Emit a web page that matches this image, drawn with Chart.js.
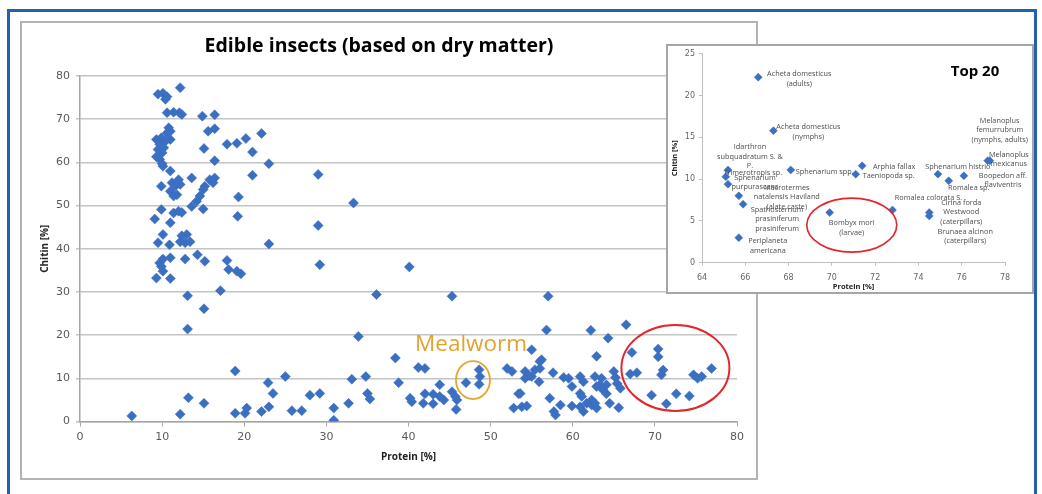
<!DOCTYPE html>
<html>
<head>
<meta charset="utf-8">
<script src="https://cdn.jsdelivr.net/npm/chart.js@4.4.1/dist/chart.umd.min.js"></script>
<style>
    html, body { margin: 0; padding: 0; background: #fff; }
    body { width: 1042px; height: 494px; position: relative; overflow: hidden; }
    #frame { position: absolute; left: 7px; top: 9px; width: 1030px; height: 600px; border: 3px solid #2261b2; border-bottom: none; box-sizing: border-box; }
    #mainBorder { position: absolute; left: 20px; top: 21px; width: 738px; height: 459px; border: 2px solid #b3b3b3; box-sizing: border-box; }
    #mainChart { position: absolute; left: 21px; top: 22px; }
    #insetBox { position: absolute; left: 666px; top: 44px; width: 368px; height: 250px; border: 2px solid #a6a6a6; box-sizing: border-box; background: #fff; }
    #insetChart { position: absolute; left: 667px; top: 45px; }
</style>
</head>
<body>
<div id="frame"></div>
<canvas id="mainChart" width="736" height="457"></canvas>
<div id="mainBorder"></div>
<div id="insetBox"></div>
<canvas id="insetChart" width="366" height="248"></canvas>
<script>
// all edible insects: protein [%] and chitin [%]
const protein = [
    12.2, 9.5, 10.1, 10.6, 10.4, 10.6, 11.4, 12.1, 12.4, 14.9, 16.4,
    10.8, 11, 10.6, 15.6, 16.4, 9.3, 9.9, 9.7, 10.4, 11,
    9.5, 10.2, 10, 9.3, 9.7, 10.1, 10, 11,
    15.1, 17.9, 19.1, 20.2, 22.1, 21, 16.4, 23, 21, 29,
    13.6, 9.9, 11.2, 11.6, 12, 12.2, 11, 11.8, 11.4,
    15.2, 15.8, 16.2, 16.4, 14.6, 14.2, 13.6, 15, 15,
    19.3, 19.2, 9.9, 11.4, 12, 12.4, 9.1, 11, 33.3, 29,
    10.1, 12.4, 13, 12.8, 12.2, 13.4, 9.5, 10.9, 23,
    10.1, 11, 9.7, 9.9, 10.1, 12.8, 14.3, 15.2, 9.3, 11,
    17.9, 18.1, 19.1, 19.6, 13.1, 17.1, 15.1, 13.1,
    29.2, 40.1, 36.1, 45.3, 33.9, 56.8, 57, 62.2, 66.5, 64.3, 55, 62.9, 67.2, 70.4, 70.4, 38.4, 56,
    18.9, 25, 33.1, 34.8, 38.8, 22.9, 23.5, 13.2, 15.1, 6.3, 12.2, 18.9, 20.3, 20.1, 22.1, 23,
    25.8, 27, 28, 29.2, 30.9, 30.9, 32.7, 35, 35.3,
    41.2, 42, 40.2, 40.4, 42, 43, 43.8, 41.8, 43, 43.8, 44.3, 45.3, 45.7, 45.9, 45.8,
    47, 48.6, 48.7, 48.6,
    52, 52.6, 53.4, 52.8, 54.2, 54.7, 55.4, 56, 57.6, 54.2, 55.9, 58.9, 59.5, 60.9, 61.3,
    53.6, 57.2, 53.8, 54.4, 58.5, 57.9, 57.7, 56.2, 55,
    59.9, 60.9, 61.1, 59.9, 60.9, 61.3, 61.7, 62.3, 62.9, 62.7, 63.5, 63.3, 62.9, 63.7,
    64.1, 64.1, 62.7, 64.5, 65.6, 62.3, 65, 65.2, 65.4, 65.8,
    67, 67.8, 71, 70.8, 74.7, 75.2, 75.7, 76.9, 69.6, 71.4, 72.6, 74.2
];
const chitin = [
    77.3, 75.8, 76, 75.2, 74.6, 71.5, 71.6, 71.5, 71.1, 70.7, 71,
    68, 67.2, 66.8, 67.2, 67.8, 65.3, 65.7, 64.2, 64.9, 65.3,
    63, 63.4, 62.2, 61.3, 60.7, 59.1, 59.7, 58,
    63.2, 64.2, 64.4, 65.5, 66.7, 62.4, 60.4, 59.7, 57, 57.2,
    56.4, 54.5, 55.3, 54.5, 56, 54.9, 53.3, 52.5, 52.2,
    54.5, 56, 55.3, 56.4, 52.2, 51, 49.8, 53.7, 49.2,
    52, 47.5, 49.1, 48.3, 48.7, 48.4, 46.9, 46, 50.6, 45.4,
    43.3, 43, 43.3, 41.4, 41.6, 41.6, 41.4, 40.9, 41.1,
    37.6, 37.9, 36.7, 35.9, 34.8, 37.6, 38.6, 37.1, 33.2, 33.1,
    37.3, 35.2, 34.8, 34.2, 29.1, 30.3, 26.1, 21.4,
    36.3, 35.8, 29.4, 29, 19.7, 21.2, 29, 21.1, 22.4, 19.3, 16.6, 15.1, 16, 16.8, 15, 14.7, 13.9,
    11.7, 10.4, 9.8, 10.4, 9, 9, 6.5, 5.5, 4.2, 1.3, 1.7, 1.9, 3.1, 1.9, 2.3, 3.4,
    2.5, 2.5, 6.1, 6.5, 3.1, 0.3, 4.2, 6.5, 5.2,
    12.5, 12.3, 5.4, 4.6, 6.4, 6.3, 5.8, 4.2, 4.1, 8.5, 5, 6.9, 5.8, 5, 2.8,
    9, 12, 10.4, 8.6,
    12.3, 11.6, 6.4, 3.1, 11.6, 10.6, 12, 12.3, 11.3, 10, 9.2, 10.2, 10, 10.4, 9.2,
    6.5, 5.4, 3.4, 3.6, 3.8, 1.5, 2.3, 14.3, 10.4,
    8.1, 6.5, 5.8, 3.6, 3.4, 2.3, 4.2, 3.8, 3.1, 10.4, 10, 8.5, 8.1, 7.3,
    6.4, 8.5, 4.2, 4.2, 3.2, 5, 11.6, 10.2, 8.8, 7.7,
    11, 11.3, 11.9, 10.8, 10.8, 10, 10.4, 12.3, 6.1, 4.1, 6.4, 5.9
];

// top 20 by protein
const top20Names = [
    'Acheta domesticus\n(adults)', 'Acheta domesticus\n(nymphs)', 'Idarthron\nsubquadratum S. &\nP.',
    'Trimerotropis sp.', 'Sphenarium\npurpurascens', 'Sphenarium spp.',
    'Macrotermes\nnatalensis Haviland\n(alate caste)', 'Spathosternum\nprasiniferum\nprasiniferum',
    'Periplaneta\namericana', 'Bombyx mori\n(larvae)', 'Arphia fallax', 'Taeniopoda sp.',
    'Romalea colorata S.', 'Cirina forda\nWestwood\n(caterpillars)', 'Brunaea alcinon\n(caterpillars)',
    'Sphenarium histrio', 'Romalea sp.', 'Boopedon aff.\nflaviventris',
    'Melanoplus\nfemurrubrum\n(nymphs, adults)', 'Melanoplus\nmexicanus'
];
const top20Protein = [66.6, 67.3, 65.2, 65.1, 65.2, 68.1, 65.7, 65.9, 65.7, 69.9, 71.4, 71.1, 72.8, 74.5, 74.5, 74.9, 75.4, 76.1, 77.2, 77.3];
const top20Chitin = [22.2, 15.8, 11.1, 10.3, 9.4, 11.1, 8.0, 7.0, 3.0, 6.0, 11.6, 10.6, 6.3, 6.0, 5.6, 10.6, 9.8, 10.4, 12.2, 12.2];
// where each label sits relative to its point (px)
const labelOffsets = [
    [41, -3], [35, -3.6], [22, -23], [27, -4], [27, -6.6], [34, 1.7], [48, -8.3], [34, 5.3],
    [29, 3.3], [22, 10.4], [32, 1.3], [33, 1.7], [36, -12], [32, -10], [36, 16], [20, -7.3],
    [20, 6.7], [39, 0], [12, -40], [19, -6]
];

Chart.defaults.font.family = '"Open Sans", sans-serif';
Chart.defaults.animation = false;

const blue = '#3b6fc2';

const mainNotes = {
    id: 'mainNotes',
    afterDatasetsDraw(chart) {
        const { ctx, scales: { x, y } } = chart;
        ctx.save();
        ctx.lineWidth = 1.8;
        ctx.strokeStyle = '#e5a630';
        ctx.beginPath();
        ctx.ellipse(x.getPixelForValue(47.85), y.getPixelForValue(9.6), 17, 19, 0, 0, Math.PI * 2);
        ctx.stroke();

        ctx.lineWidth = 2;
        ctx.strokeStyle = '#e3262a';
        ctx.beginPath();
        ctx.ellipse(x.getPixelForValue(72.5), y.getPixelForValue(12.4), 54, 43, 0, 0, Math.PI * 2);
        ctx.stroke();

        ctx.fillStyle = '#e3a22d';
        ctx.font = '22.5px "Open Sans"';
        ctx.textAlign = 'left';
        ctx.textBaseline = 'alphabetic';
        ctx.fillText('Mealworm', x.getPixelForValue(40.8), y.getPixelForValue(16.3));
        ctx.restore();
    }
};

const insetNotes = {
    id: 'insetNotes',
    afterDatasetsDraw(chart) {
        const { ctx, chartArea, scales: { x, y } } = chart;
        ctx.save();
        ctx.fillStyle = '#4d4d4d';
        ctx.font = '7.3px "Open Sans"';
        ctx.textAlign = 'center';
        ctx.textBaseline = 'middle';
        top20Names.forEach((name, i) => {
            const px = x.getPixelForValue(top20Protein[i]) + labelOffsets[i][0];
            const py = y.getPixelForValue(top20Chitin[i]) + labelOffsets[i][1];
            name.split('\n').forEach((line, k) => {
                ctx.fillText(line, px, py + k * 9.5);
            });
        });

        ctx.lineWidth = 1.6;
        ctx.strokeStyle = '#e3262a';
        ctx.beginPath();
        ctx.ellipse(x.getPixelForValue(70.92), y.getPixelForValue(4.5), 45, 27, 0, 0, Math.PI * 2);
        ctx.stroke();

        ctx.fillStyle = '#000';
        ctx.font = 'bold 15px "Open Sans"';
        ctx.fillText('Top 20', chartArea.right - 30, chartArea.top + 18.3);
        ctx.restore();
    }
};

const mainConfig = {
    type: 'scatter',
    data: {
        datasets: [{
            label: 'Edible insects',
            data: protein.map((p, i) => ({ x: p, y: chitin[i] })),
            pointStyle: 'rectRot',
            radius: 5,
            backgroundColor: blue,
            borderColor: blue,
            borderWidth: 0.5
        }]
    },
    options: {
        responsive: false,
        layout: { padding: { top: 0, right: 20, bottom: 0, left: 0 } },
        plugins: {
            legend: { display: false },
            tooltip: { enabled: false },
            title: {
                display: true,
                text: 'Edible insects (based on dry matter)',
                color: '#000',
                font: { size: 19.5, weight: 'bold' },
                padding: { top: 13, bottom: 17.6 }
            }
        },
        scales: {
            x: {
                type: 'linear',
                min: 0, max: 80,
                afterFit: (s) => { s.height = 57.5; },
                grid: { drawOnChartArea: false, tickLength: 5, color: '#a6a6a6' },
                border: { color: '#a6a6a6', width: 1.5 },
                ticks: { stepSize: 10, padding: 3.9, color: '#595959', font: { family: '"DejaVu Sans"', size: 11 } },
                title: { display: true, text: 'Protein [%]', color: '#222', font: { size: 10, weight: 'bold' }, padding: { top: 0, bottom: 16 } }
            },
            y: {
                min: 0, max: 80,
                afterFit: (s) => { s.width = 59; },
                grid: { color: '#c4c4c4', lineWidth: 1.5, tickLength: 4 },
                border: { color: '#a6a6a6', width: 1.5 },
                ticks: { stepSize: 10, padding: 6, color: '#595959', font: { family: '"DejaVu Sans"', size: 11 } },
                title: { display: true, text: 'Chitin [%]', color: '#222', font: { size: 10, weight: 'bold' }, padding: { top: 18, bottom: 0 } }
            }
        }
    },
    plugins: [mainNotes]
};

const insetConfig = {
    type: 'scatter',
    data: {
        datasets: [{
            label: 'Top 20',
            data: top20Protein.map((p, i) => ({ x: p, y: top20Chitin[i] })),
            pointStyle: 'rectRot',
            radius: 4,
            backgroundColor: blue,
            borderColor: blue,
            borderWidth: 0.5
        }]
    },
    options: {
        responsive: false,
        layout: { padding: { top: 6.7, right: 28, bottom: 0, left: 0 } },
        plugins: {
            legend: { display: false },
            tooltip: { enabled: false }
        },
        scales: {
            x: {
                type: 'linear',
                min: 64, max: 78,
                afterFit: (s) => { s.height = 30.3; },
                grid: { drawOnChartArea: false, tickLength: 3, color: '#bfbfbf' },
                border: { color: '#bfbfbf' },
                ticks: { stepSize: 2, padding: 7.5, color: '#666', font: { family: '"DejaVu Sans"', size: 8 } },
                title: { display: true, text: 'Protein [%]', color: '#222', font: { size: 7.5, weight: 'bold' }, padding: { top: 0, bottom: 1.8 } }
            },
            y: {
                min: 0, max: 25,
                afterFit: (s) => { s.width = 35; },
                grid: { drawOnChartArea: false, tickLength: 3, color: '#bfbfbf' },
                border: { color: '#bfbfbf' },
                ticks: { stepSize: 5, padding: 4, color: '#666', font: { family: '"DejaVu Sans"', size: 8 } },
                title: { display: true, text: 'Chitin [%]', color: '#222', font: { size: 7.5, weight: 'bold' }, padding: { top: 3.8, bottom: 0 } }
            }
        }
    },
    plugins: [insetNotes]
};

const mainChart = new Chart(document.getElementById('mainChart'), mainConfig);
const insetChart = new Chart(document.getElementById('insetChart'), insetConfig);
</script>
</body>
</html>
